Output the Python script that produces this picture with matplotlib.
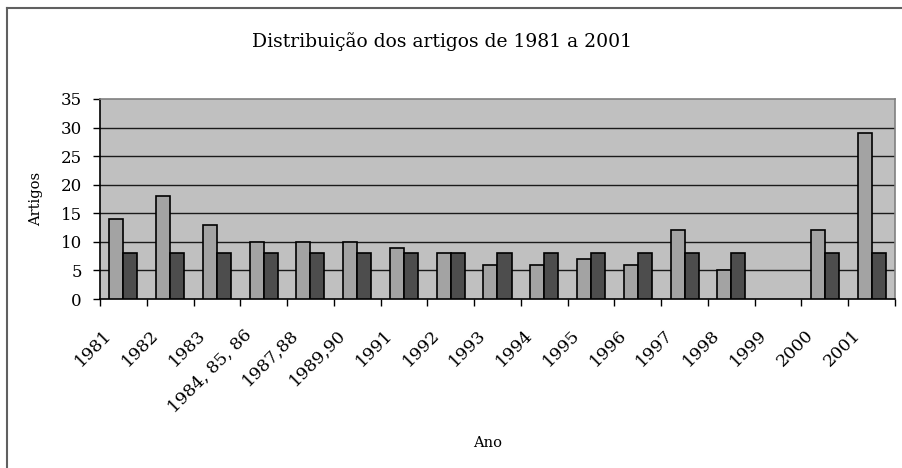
import numpy as np
import matplotlib
matplotlib.use("Agg")
from matplotlib import pyplot as plt
from matplotlib.lines import Line2D
from matplotlib.transforms import ScaledTranslation

# data (1999 has no bars)
anos = ['1981', '1982', '1983', '1984, 85, 86', '1987,88', '1989,90',
        '1991', '1992', '1993', '1994', '1995', '1996', '1997', '1998',
        '1999', '2000', '2001']
artigos = [14, 18, 13, 10, 10, 10, 9, 8, 6, 6, 7, 6, 12, 5, None, 12, 29]
media = [8, 8, 8, 8, 8, 8, 8, 8, 8, 8, 8, 8, 8, 8, None, 8, 8]

plt.rcParams['font.family'] = ['DejaVu Serif']

W, H = 903, 468
fig = plt.figure(figsize=(W / 100, H / 100), dpi=100)
ax = fig.add_axes([100 / W, 1 - 299 / H, 795 / W, 200 / H])
ax.set_facecolor('#C0C0C0')

x = np.arange(len(anos))
largura = 0.3
a = np.array([np.nan if v is None else v for v in artigos], dtype=float)
m = np.array([np.nan if v is None else v for v in media], dtype=float)
ok_a = ~np.isnan(a)
ok_m = ~np.isnan(m)
ax.bar(x[ok_a] - largura / 2, a[ok_a], largura, color='#A3A3A3',
       edgecolor='black', linewidth=1.2, zorder=3)
ax.bar(x[ok_m] + largura / 2, m[ok_m], largura, color='#4D4D4D',
       edgecolor='black', linewidth=1.2, zorder=3)

ax.set_xlim(-0.5, len(anos) - 0.5)
ax.set_ylim(0, 35)
ax.set_yticks(range(0, 36, 5))
for g in range(5, 35, 5):
    ax.axhline(g, color='#1a1a1a', lw=1, zorder=1)

ax.set_xticks(x)
ax.set_xticklabels(anos, rotation=45, ha='right', va='top', fontsize=12.5)
ax.set_xticks(np.arange(-0.5, len(anos)), minor=True)
ax.tick_params(axis='x', which='major', length=0, pad=20)
ax.tick_params(axis='x', which='minor', length=5, width=1, direction='out')
ax.tick_params(axis='y', length=5, width=1, direction='out', pad=8,
               labelsize=12)
desloc = ScaledTranslation(-8 / 100, 0, fig.dpi_scale_trans)
for lab in ax.get_xticklabels():
    lab.set_transform(lab.get_transform() + desloc)

for s in ['left', 'bottom']:
    ax.spines[s].set_color('black')
    ax.spines[s].set_linewidth(1.2)
for s in ['top', 'right']:
    ax.spines[s].set_color('#808080')
    ax.spines[s].set_linewidth(1.2)

fig.text(442 / W, 1 - 42 / H, 'Distribuição dos artigos de 1981 a 2001',
         ha='center', va='center', fontsize=13.5)
fig.text(36 / W, 1 - 199 / H, 'Artigos', rotation=90,
         ha='center', va='center', fontsize=10.5)
fig.text(488 / W, 1 - 443 / H, 'Ano', ha='center', va='center', fontsize=10.5)

# chart border (only top and left edges visible in the reference)
fig.add_artist(Line2D([7 / W, 7 / W], [0, 1 - 8 / H], color='#606060',
                      lw=1.5, transform=fig.transFigure))
fig.add_artist(Line2D([7 / W, 1], [1 - 8 / H, 1 - 8 / H], color='#606060',
                      lw=1.5, transform=fig.transFigure))

fig.savefig('out.png', dpi=100)
